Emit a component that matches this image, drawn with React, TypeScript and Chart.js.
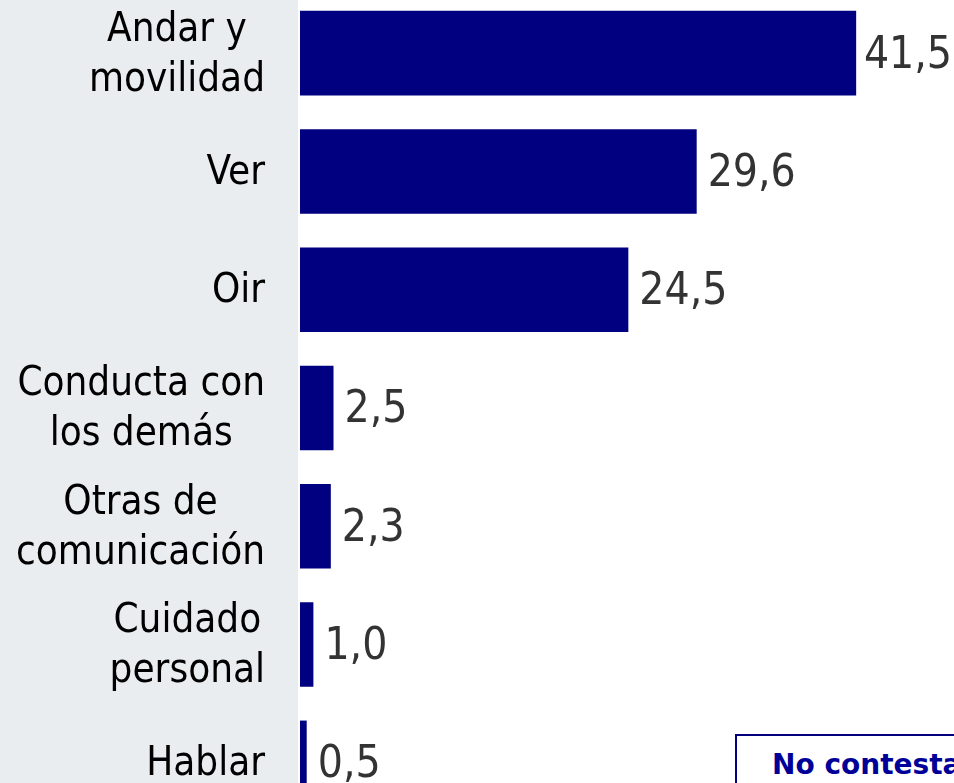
import React, { useEffect, useRef } from "react";
import { Chart, registerables } from "chart.js";

Chart.register(...registerables);

const categories: string[][] = [
  ["Andar y", "movilidad"],
  ["Ver"],
  ["Oir"],
  ["Conducta con", "los demás"],
  ["Otras de", "comunicación"],
  ["Cuidado", "personal"],
  ["Hablar"],
];
const values: number[] = [41.5, 29.6, 24.5, 2.5, 2.3, 1.0, 0.5];
const xMin = 0;
const xMax = 48.8;
const boxText = "No contesta";

const FONT_FAMILY = '"DejaVu Sans Condensed", "DejaVu Sans", sans-serif';
const BOX_FONT = '"DejaVu Sans", sans-serif';
const BAR_COLOR = "#000080";
const PANEL_COLOR = "#e9edef";

const App: React.FC = () => {
  const canvasRef = useRef<HTMLCanvasElement | null>(null);

  useEffect(() => {
    const canvas = canvasRef.current;
    if (!canvas) return;

    const bgPlugin = {
      id: "bgPanel",
      beforeDraw(chart: any) {
        const ctx = chart.ctx;
        const area = chart.chartArea;
        ctx.save();
        ctx.fillStyle = "#ffffff";
        ctx.fillRect(0, 0, chart.width, chart.height);
        ctx.fillStyle = PANEL_COLOR;
        ctx.fillRect(0, 0, area.left - 2, chart.height);
        ctx.restore();
      },
    };

    const labelPlugin = {
      id: "catLabels",
      afterDraw(chart: any) {
        const ctx = chart.ctx;
        const yScale = chart.scales.y;
        const area = chart.chartArea;
        const rightEdge = area.left - 35;
        const lineH = 50;
        ctx.save();
        ctx.font = `40px ${FONT_FAMILY}`;
        ctx.fillStyle = "#000000";
        ctx.textBaseline = "middle";
        ctx.textAlign = "center";
        categories.forEach((lines, i) => {
          const yc = yScale.getPixelForTick(i) + 2;
          const w = Math.max(...lines.map((l) => ctx.measureText(l).width));
          const cx = rightEdge - w / 2;
          const top = yc - ((lines.length - 1) * lineH) / 2;
          lines.forEach((l, j) => ctx.fillText(l, cx, top + j * lineH));
        });
        ctx.restore();
      },
    };

    const valuePlugin = {
      id: "valueLabels",
      afterDatasetsDraw(chart: any) {
        const ctx = chart.ctx;
        const meta = chart.getDatasetMeta(0);
        ctx.save();
        ctx.font = `44px ${FONT_FAMILY}`;
        ctx.fillStyle = "#333333";
        ctx.textBaseline = "middle";
        ctx.textAlign = "left";
        meta.data.forEach((bar: any, i: number) => {
          const txt = values[i].toFixed(1).replace(".", ",");
          const w = ctx.measureText(txt).width;
          const x = Math.min(bar.x + 11, chart.width - w - 2);
          ctx.fillText(txt, x, bar.y + 3);
        });
        ctx.restore();
      },
    };

    const chart = new Chart(canvas, {
      type: "bar",
      data: {
        labels: categories,
        datasets: [
          {
            data: values,
            backgroundColor: BAR_COLOR,
            borderWidth: 0,
            barPercentage: 0.715,
            categoryPercentage: 1,
          },
        ],
      },
      options: {
        indexAxis: "y",
        responsive: false,
        maintainAspectRatio: false,
        animation: false,
        layout: { padding: { left: 300, right: 0, top: 0, bottom: 0 } },
        plugins: {
          legend: { display: false },
          tooltip: { enabled: false },
          title: { display: false },
        },
        scales: {
          x: { display: false, min: xMin, max: xMax },
          y: { display: false, offset: true },
        },
      },
      plugins: [bgPlugin, labelPlugin, valuePlugin],
    });

    return () => chart.destroy();
  }, []);

  return (
    <div
      style={{
        position: "fixed",
        left: 0,
        top: 0,
        width: 954,
        height: 783,
        overflow: "hidden",
        background: "#ffffff",
      }}
    >
      <canvas
        ref={canvasRef}
        width={954}
        height={828}
        style={{ position: "absolute", left: 0, top: -6, width: 954, height: 828 }}
      />
      <div
        style={{
          position: "absolute",
          left: 735,
          top: 734,
          width: 300,
          height: 80,
          boxSizing: "border-box",
          border: "2px solid #000080",
          background: "#ffffff",
          color: "#000099",
          fontFamily: BOX_FONT,
          fontWeight: "bold",
          fontSize: 28,
          lineHeight: "30px",
          paddingLeft: 35,
          paddingTop: 14,
          whiteSpace: "nowrap",
        }}
      >
        {boxText}
      </div>
    </div>
  );
};

export default App;
